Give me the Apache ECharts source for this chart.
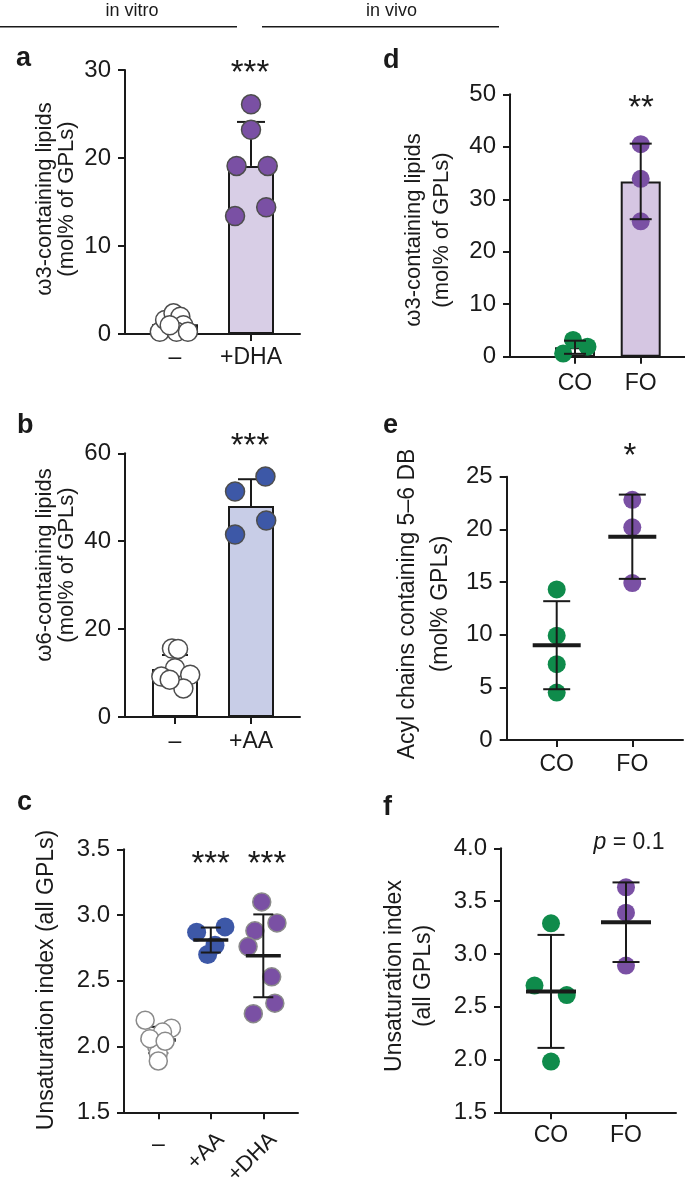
<!DOCTYPE html>
<html>
<head>
<meta charset="utf-8">
<script src="https://cdn.jsdelivr.net/npm/echarts@6/dist/echarts.min.js"></script>
<style>
  html, body { margin: 0; padding: 0; background: #fff; }
  #chart { width: 685px; height: 1182px; }
</style>
</head>
<body>
<div id="chart"></div>
<script>
// ---------------- DATA ----------------
// Panel a: ω3-containing lipids, in vitro
const aCategories = ['–', '+DHA'];
const aMeans = [1.1, 19.1];
const aSD = [0.8, 5.0];
const aCtrlValues = [0.26, 1.6, 2.35, 1.97, 1.0, 0.26, 0.26, 1.0];
const aCtrlJitter = [-0.2, -0.13, -0.02, 0.07, 0.11, 0.02, 0.17, -0.07];
const aDhaValues = [26.1, 23.2, 19.1, 19.1, 13.4, 14.4];
const aDhaJitter = [0, 0, -0.19, 0.22, -0.21, 0.2];

// Panel b: ω6-containing lipids, in vitro
const bCategories = ['–', '+AA'];
const bMeans = [10.9, 48.0];
const bSD = [3.2, 6.1];
const bCtrlValues = [15.6, 15.5, 11.1, 9.2, 9.6, 6.5, 8.5];
const bCtrlJitter = [-0.04, 0.04, 0, -0.18, 0.2, 0.11, -0.07];
const bAaValues = [54.7, 51.3, 44.7, 41.5];
const bAaJitter = [0.19, -0.21, 0.2, -0.21];

// Panel c: unsaturation index, in vitro
const cCategories = ['–', '+AA', '+DHA'];
const cMeans = [2.05, 2.81, 2.69];
const cSD = [0.1, 0.095, 0.315];
const cCtrlValues = [2.20, 2.14, 2.11, 2.00, 1.95, 1.89, 2.06, 2.04];
const cCtrlJitter = [-0.25, 0.25, 0.08, -0.03, 0, 0, -0.16, 0.13];
const cAaValues = [2.87, 2.91, 2.70, 2.77];
const cAaJitter = [-0.27, 0.27, -0.06, 0.08];
const cDhaValues = [3.10, 2.94, 2.88, 2.76, 2.53, 2.33, 2.25];
const cDhaJitter = [-0.03, 0.26, -0.16, -0.29, 0.16, 0.22, -0.19];

// Panel d: ω3-containing lipids, in vivo
const dCategories = ['CO', 'FO'];
const dMeans = [1.8, 33.4];
const dSD = [1.25, 7.2];
const dCoValues = [3.2, 0.6, 1.9];
const dCoJitter = [-0.03, -0.18, 0.19];
const dFoValues = [40.5, 33.9, 25.8];

// Panel e: acyl chains containing 5–6 DB, in vivo
const eCategories = ['CO', 'FO'];
const eMeans = [9.0, 19.3];
const eSD = [4.18, 4.0];
const eCoValues = [14.3, 9.9, 7.2, 4.5];
const eFoValues = [22.8, 20.2, 14.9];

// Panel f: unsaturation index, in vivo
const fCategories = ['CO', 'FO'];
const fMeans = [2.645, 3.30];
const fSD = [0.535, 0.377];
const fCoValues = [3.29, 2.70, 2.61, 1.98];
const fCoJitter = [0, -0.22, 0.21, 0];
const fFoValues = [3.63, 3.39, 2.89];

// y-axis ticks [min, max, interval]
const aTicks = [0, 30, 10];
const bTicks = [0, 60, 20];
const cTicks = [1.5, 3.5, 0.5];
const dTicks = [0, 50, 10];
const eTicks = [0, 25, 5];
const fTicks = [1.5, 4.0, 0.5];

// ---------------- STYLE / LAYOUT ----------------
const FONT = '"Liberation Sans", Arial, Helvetica, sans-serif';
const INK = '#1a1a1a';
const TICK_FONT = 24;
const CAT_FONT = 23;
const COL = {
  purple: '#7a50a4', blue: '#3d58a7', green: '#0f8b4b',
  dhaBar: '#d8cee6', aaBar: '#c8cde7', foBar: '#d5c6e2'
};

const panels = [
  { grid: { left: 125, top: 70, width: 175, height: 264 },   xr: [0.3421, 2.6447], cats: aCategories, ticks: aTicks },
  { grid: { left: 125, top: 453.3, width: 175, height: 263.7 }, xr: [0.3421, 2.6447], cats: bCategories, ticks: bTicks },
  { grid: { left: 124, top: 849.3, width: 174, height: 263 }, xr: [0.3467, 3.661], cats: cCategories, ticks: cTicks },
  { grid: { left: 510, top: 94.3, width: 175, height: 262.4 }, xr: [0.0107, 2.674], cats: dCategories, ticks: dTicks },
  { grid: { left: 506.7, top: 476.7, width: 176.3, height: 263.3 }, xr: [0.3386, 2.6706], cats: eCategories, ticks: eTicks },
  { grid: { left: 501, top: 848.3, width: 175, height: 264 }, xr: [0.3333, 2.6667], cats: fCategories, ticks: fTicks }
];
const labelMargins = [12, 13, 21, 15, 13, 12];

const grids = panels.map(p => Object.assign({ containLabel: false, outerBoundsMode: 'none' }, p.grid));

const axisLineStyle = { color: INK, width: 2 };
const xAxes = panels.map((p, i) => {
  const ticksAt = p.cats.map((c, k) => k + 1);
  return {
    type: 'value', gridIndex: i, position: 'bottom', min: p.xr[0], max: p.xr[1],
    axisLine: { show: true, onZero: false, lineStyle: axisLineStyle },
    axisTick: { show: true, length: 7, lineStyle: axisLineStyle, customValues: ticksAt },
    axisLabel: {
      show: true, customValues: i === 2 ? [1] : ticksAt,
      margin: labelMargins[i], fontFamily: FONT, fontSize: CAT_FONT, color: INK,
      formatter: v => p.cats[Math.round(v) - 1]
    },
    splitLine: { show: false }
  };
});
// rotated labels for panel c (+AA, +DHA)
const cShift = 10 / 52.5;
xAxes.push({
  type: 'value', gridIndex: 2, position: 'bottom', min: panels[2].xr[0] - cShift, max: panels[2].xr[1] - cShift,
  axisLine: { show: false, onZero: false }, axisTick: { show: false }, splitLine: { show: false },
  axisLabel: {
    show: true, customValues: [2, 3], rotate: 45, margin: 24,
    fontFamily: FONT, fontSize: 22, color: INK,
    formatter: v => cCategories[Math.round(v) - 1]
  }
});

const yAxes = panels.map((p, i) => ({
  type: 'value', gridIndex: i, min: p.ticks[0], max: p.ticks[1], interval: p.ticks[2],
  axisLine: { show: true, onZero: false, lineStyle: axisLineStyle },
  axisTick: { show: true, length: 7, lineStyle: axisLineStyle },
  axisLabel: {
    margin: 14, fontFamily: FONT, fontSize: TICK_FONT, color: INK,
    formatter: v => (p.ticks[2] < 1 ? v.toFixed(1) : String(v))
  },
  splitLine: { show: false }
}));

// ---------------- SERIES HELPERS ----------------
function pts(values, cat, jitter) {
  return values.map((v, k) => [cat + (jitter ? jitter[k] : 0), v]);
}
function scatter(idx, data, size, color, border, z) {
  return {
    type: 'scatter', xAxisIndex: idx, yAxisIndex: idx, data: data,
    symbol: 'circle', symbolSize: size, z: z, silent: true,
    itemStyle: { color: color, borderColor: border || color, borderWidth: border ? 1.5 : 0, opacity: 1 }
  };
}
function bars(idx, means, colors, width) {
  return {
    type: 'bar', xAxisIndex: idx, yAxisIndex: idx, barWidth: width, z: 2, silent: true,
    data: means.map((m, k) => ({ value: [k + 1, m], itemStyle: { color: colors[k] } })),
    itemStyle: { borderColor: INK, borderWidth: 2 }
  };
}
// rows: [x, low, high, mean]
function errors(idx, rows, opt, z) {
  return {
    type: 'custom', xAxisIndex: idx, yAxisIndex: idx, z: z, clip: false, silent: true,
    encode: { x: 0, y: [1, 2, 3] },
    data: rows,
    renderItem: function (params, api) {
      const x = api.value(0), lo = api.value(1), hi = api.value(2), m = api.value(3);
      const pLo = api.coord([x, lo]), pHi = api.coord([x, hi]), pM = api.coord([x, m]);
      const s = { stroke: INK, lineWidth: 2 };
      const ch = [
        { type: 'line', shape: { x1: pLo[0], y1: pLo[1], x2: pHi[0], y2: pHi[1] }, style: s },
        { type: 'line', shape: { x1: pHi[0] - opt.cap / 2, y1: pHi[1], x2: pHi[0] + opt.cap / 2, y2: pHi[1] }, style: s }
      ];
      if (opt.lowerCap) {
        ch.push({ type: 'line', shape: { x1: pLo[0] - opt.cap / 2, y1: pLo[1], x2: pLo[0] + opt.cap / 2, y2: pLo[1] }, style: s });
      }
      if (opt.mean) {
        ch.push({ type: 'line', shape: { x1: pM[0] - opt.mean / 2, y1: pM[1], x2: pM[0] + opt.mean / 2, y2: pM[1] },
          style: { stroke: INK, lineWidth: opt.meanLw } });
      }
      return { type: 'group', children: ch };
    }
  };
}
const upperRows = (means, sd) => means.map((m, k) => [k + 1, m, m + sd[k], m]);
const fullRows = (means, sd) => means.map((m, k) => [k + 1, m - sd[k], m + sd[k], m]);

const series = [
  // a
  bars(0, aMeans, ['#ffffff', COL.dhaBar], 46),
  errors(0, upperRows(aMeans, aSD), { cap: 28 }, 3),
  scatter(0, pts(aCtrlValues, 1, aCtrlJitter), 19, '#ffffff', '#4d4d4d', 4),
  scatter(0, pts(aDhaValues, 2, aDhaJitter), 19, COL.purple, '#4d4d4d', 4),
  // b
  bars(1, bMeans, ['#ffffff', COL.aaBar], 46),
  errors(1, upperRows(bMeans, bSD), { cap: 26 }, 3),
  scatter(1, pts(bCtrlValues, 1, bCtrlJitter), 19, '#ffffff', '#4d4d4d', 4),
  scatter(1, pts(bAaValues, 2, bAaJitter), 19, COL.blue, '#4d4d4d', 4),
  // c
  errors(2, fullRows(cMeans, cSD), { cap: 20, lowerCap: true, mean: 35, meanLw: 3.5 }, 4),
  scatter(2, pts(cCtrlValues, 1, cCtrlJitter), 18, '#ffffff', '#8a8a8a', 5),
  scatter(2, pts(cAaValues, 2, cAaJitter), 19, COL.blue, null, 3),
  scatter(2, pts(cDhaValues, 3, cDhaJitter), 18, COL.purple, '#8a8a8a', 3),
  // d
  bars(3, dMeans, ['#ffffff', COL.foBar], 40),
  scatter(3, pts(dCoValues, 1, dCoJitter), 18, COL.green, null, 3),
  scatter(3, pts(dFoValues, 2), 18, COL.purple, null, 3),
  errors(3, fullRows(dMeans, dSD), { cap: 22, lowerCap: true }, 4),
  // e
  scatter(4, pts(eCoValues, 1), 18, COL.green, null, 3),
  scatter(4, pts(eFoValues, 2), 18, COL.purple, null, 3),
  errors(4, fullRows(eMeans, eSD), { cap: 27, lowerCap: true, mean: 48, meanLw: 4 }, 4),
  // f
  scatter(5, pts(fCoValues, 1, fCoJitter), 18, COL.green, null, 3),
  scatter(5, pts(fFoValues, 2), 18, COL.purple, null, 3),
  errors(5, fullRows(fMeans, fSD), { cap: 27, lowerCap: true, mean: 50, meanLw: 4 }, 4)
];

// ---------------- TEXT ----------------
function txt(x, y, text, size, opts) {
  opts = opts || {};
  return {
    type: 'text', x: x, y: y, rotation: opts.rot || 0, silent: true, z: 10,
    style: Object.assign({
      text: text, fontFamily: FONT, fontSize: size, fill: INK,
      align: opts.align || 'center', verticalAlign: 'middle',
      fontWeight: opts.bold ? 'bold' : 'normal'
    }, opts.rich ? { rich: opts.rich } : {})
  };
}
const R = Math.PI / 2;
const graphics = [
  txt(132, 11.5, 'in vitro', 18),
  txt(391.5, 11.5, 'in vivo', 18),
  { type: 'line', silent: true, shape: { x1: 0, y1: 26.7, x2: 237, y2: 26.7 }, style: { stroke: INK, lineWidth: 1.5 } },
  { type: 'line', silent: true, shape: { x1: 262, y1: 26.7, x2: 499, y2: 26.7 }, style: { stroke: INK, lineWidth: 1.5 } },
  // panel letters
  txt(16, 58.5, 'a', 27, { bold: true, align: 'left' }),
  txt(17, 425.5, 'b', 27, { bold: true, align: 'left' }),
  txt(17, 802.5, 'c', 27, { bold: true, align: 'left' }),
  txt(383, 60.5, 'd', 27, { bold: true, align: 'left' }),
  txt(383, 425.5, 'e', 27, { bold: true, align: 'left' }),
  txt(383, 807.5, 'f', 27, { bold: true, align: 'left' }),
  // y-axis titles
  txt(45, 199, 'ω3-containing lipids', 22, { rot: R }),
  txt(67, 199, '(mol% of GPLs)', 22, { rot: R }),
  txt(45, 565, 'ω6-containing lipids', 22, { rot: R }),
  txt(67, 565, '(mol% of GPLs)', 22, { rot: R }),
  txt(47, 980, 'Unsaturation index (all GPLs)', 23, { rot: R }),
  txt(414, 230, 'ω3-containing lipids', 22, { rot: R }),
  txt(442, 230, '(mol% of GPLs)', 22, { rot: R }),
  txt(408, 604, 'Acyl chains containing 5–6 DB', 23, { rot: R }),
  txt(441, 604, '(mol% GPLs)', 23, { rot: R }),
  txt(395, 976, 'Unsaturation index', 23, { rot: R }),
  txt(424, 976, '(all GPLs)', 23, { rot: R }),
  // significance marks
  txt(250, 74, '***', 33),
  txt(250, 447, '***', 33),
  txt(210.7, 865, '***', 33),
  txt(267, 865, '***', 33),
  txt(641, 109, '**', 33),
  txt(630, 457, '*', 33),
  txt(629, 843, '{i|p} = 0.1', 23, { rich: { i: { fontStyle: 'italic', fontFamily: FONT, fontSize: 23, fill: INK } } })
];

const chart = echarts.init(document.getElementById('chart'), null, { renderer: 'canvas' });
chart.setOption({
  animation: false,
  backgroundColor: '#ffffff',
  grid: grids,
  xAxis: xAxes,
  yAxis: yAxes,
  series: series,
  graphic: graphics
});
</script>
</body>
</html>
